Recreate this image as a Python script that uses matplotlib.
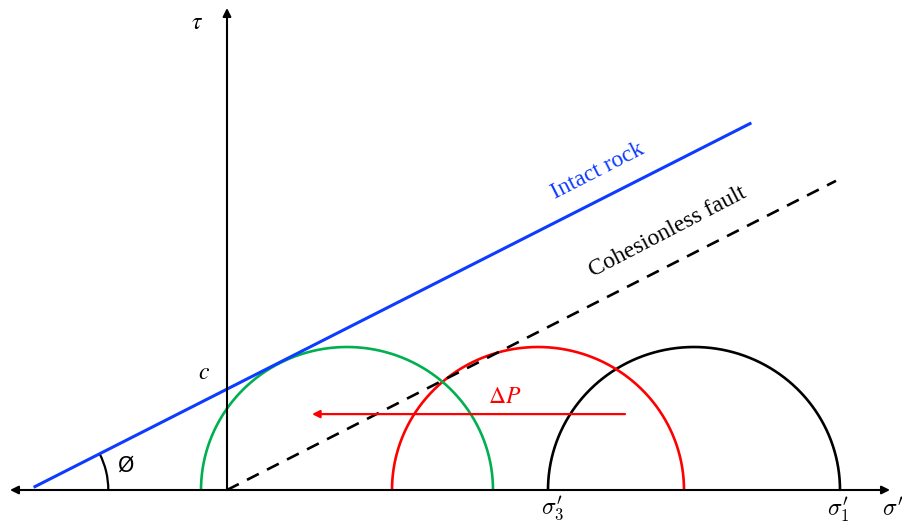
import numpy as np
import matplotlib
matplotlib.use("Agg")
import matplotlib.pyplot as plt
from matplotlib.patches import Arc

plt.rcParams["mathtext.fontset"] = "stix"

# Mohr-Coulomb parameters (stress units)
cohesion = 10.3
phi_deg = 27.4
intact_sigma = [-19.2, 52.3]      # extent of the intact-rock envelope
fault_sigma = [0.0, 60.9]         # extent of the cohesionless-fault envelope

# Mohr circles: initial state (black), after pore-pressure rise (red, green)
circle_centers = [46.7, 31.1, 12.0]
circle_radius = [14.6, 14.6, 14.6]
circle_colors = ["black", "#ff0000", "#00b050"]

# Pore-pressure shift arrow
dp_start = 39.8
dp_end = 8.5
dp_level = 7.75

k = 1.021  # vertical stretch of the drawing frame
fig = plt.figure(figsize=(9.03, 5.22), dpi=100)
ax = fig.add_axes([0, 0, 1, 1])
ax.set_xlim(-22.7, 67.6)
ax.set_ylim(-3.2 * k, 49.0 * k)
ax.axis("off")

tan_phi = np.tan(np.radians(phi_deg))
blue = "#0d3bff"

# axes with arrowheads
ax.annotate("", xy=(-21.7, 0), xytext=(66.3, 0),
            arrowprops=dict(arrowstyle="<|-|>", color="black", lw=1.5,
                            mutation_scale=12, shrinkA=0, shrinkB=0))
ax.annotate("", xy=(0, 48.2 * k), xytext=(0, 0),
            arrowprops=dict(arrowstyle="-|>", color="black", lw=1.5,
                            mutation_scale=12, shrinkA=0, shrinkB=0))

# Mohr circles (upper halves)
t = np.linspace(0, np.pi, 400)
for c0, r, col in zip(circle_centers, circle_radius, circle_colors):
    ax.plot(c0 + r * np.cos(t), r * np.sin(t), color=col, lw=1.9,
            solid_capstyle="butt")

# failure envelopes
s = np.array(intact_sigma)
ax.plot(s, cohesion + s * tan_phi, color=blue, lw=2.2)
s = np.array(fault_sigma)
ax.plot(s, s * tan_phi, color="black", lw=1.9, ls=(0, (5, 3.5)))

# friction angle arc
x0 = -cohesion / tan_phi
r_arc = 8.0
ax.add_patch(Arc((x0, 0), 2 * r_arc, 2 * r_arc * k, theta1=0, theta2=phi_deg,
                 color="black", lw=1.6))
ax.text(x0 + r_arc + 1.0, 2.45, "Ø", fontsize=15, ha="left", va="center",
        family="DejaVu Sans")

# pore-pressure arrow
ax.annotate("", xy=(dp_end, dp_level), xytext=(dp_start, dp_level),
            arrowprops=dict(arrowstyle="-|>", color="#ff0000", lw=1.6,
                            mutation_scale=11, shrinkA=0, shrinkB=0))
ax.text(27.8, 9.6, r"$\Delta P$", color="#ff0000", fontsize=17,
        ha="center", va="center")

# labels
ax.text(-3.0, 47.8, r"$\tau$", fontsize=17, ha="center", va="center")
ax.text(-2.3, 12.0, r"$c$", fontsize=17, ha="center", va="center")
ax.text(32.6, -1.95, r"$\sigma_3^{\prime}$", fontsize=17, ha="center",
        va="center", math_fontfamily="cm")
ax.text(61.1, -1.95, r"$\sigma_1^{\prime}$", fontsize=17, ha="center",
        va="center", math_fontfamily="cm")
ax.text(65.5, -1.95, r"$\sigma^{\prime}$", fontsize=17, ha="left",
        va="center", math_fontfamily="cm")

ax.text(37.1, 32.6, "Intact rock", color=blue, fontsize=17,
        family="Liberation Serif", rotation=27, rotation_mode="anchor",
        ha="center", va="center")
ax.text(44.1, 26.3, "Cohesionless fault", color="black", fontsize=17,
        family="Liberation Serif", rotation=27.5, rotation_mode="anchor",
        ha="center", va="center")

fig.savefig("out.png", dpi=100)
